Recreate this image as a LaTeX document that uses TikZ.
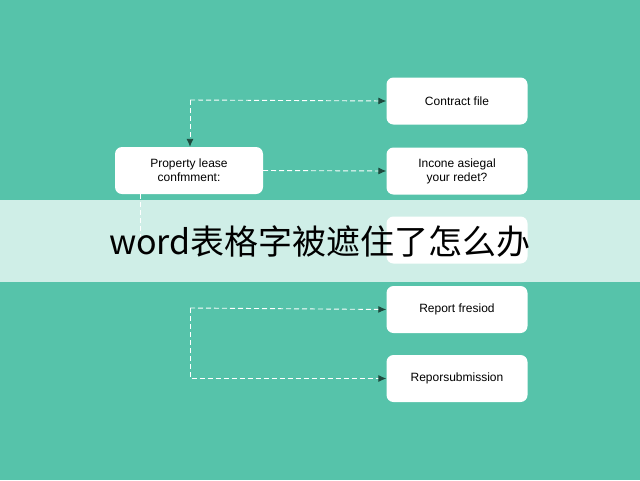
\documentclass[tikz,border=0pt]{standalone}
\usepackage{fontspec}
\setmainfont{Liberation Sans}
\newfontfamily\cjk{Noto Sans CJK SC}
\usetikzlibrary{arrows.meta}
\definecolor{bgteal}{HTML}{56C3AA}
\definecolor{tipgreen}{HTML}{1D4A3E}
\begin{document}
\begin{tikzpicture}[x=1pt,y=-1pt]
  \tikzstyle{box}=[draw=none,fill=white,rounded corners=7pt,minimum width=141pt,minimum height=47pt,align=center,font=\fontsize{12}{14}\selectfont,inner sep=0pt]
  \tikzstyle{link}=[white,dashed,dash pattern=on 5pt off 3pt,line width=0.9pt,-{Latex[color=tipgreen,length=8pt,width=7pt]}]
  \fill [bgteal] (0,0) rectangle (640,480);
  \useasboundingbox (0,0) rectangle (640,480);
  % boxes
  \node [box] (contract) at (457,101) {Contract file};
  \node [box,minimum width=148pt] (lease) at (189,170.5) {Property lease\\confmment:};
  \node [box] (income) at (457,171) {Incone asiegal\\your redet?};
  \node [box] (hidden) at (457,240) {};
  \node [box] (fresiod) at (457,309.5) {Report fresiod};
  \node [box] (submit) at (457,378.5) {Reporsubmission};
  % connectors
  \coordinate (c1) at (190,100);
  \coordinate (c2) at (190,308);
  \coordinate (c3) at (140,240);
  \draw [link] (c1) -- (contract.west);
  \draw [link] (c1) -- (lease.north -| c1);
  \draw [link] (lease.east) -- (income.west);
  \draw [white,dashed,dash pattern=on 5pt off 3pt,line width=0.9pt] (lease.south -| c3) -- (c3);
  \draw [link] (c2) -- (fresiod.west);
  \draw [link] (c2) |- (submit.west);
  % banner
  \fill [white,opacity=0.72] (0,200) rectangle (640,282);
  \node (title) at (320,242) {\cjk\fontsize{34}{40}\selectfont word表格字被遮住了怎么办};
\end{tikzpicture}
\end{document}
